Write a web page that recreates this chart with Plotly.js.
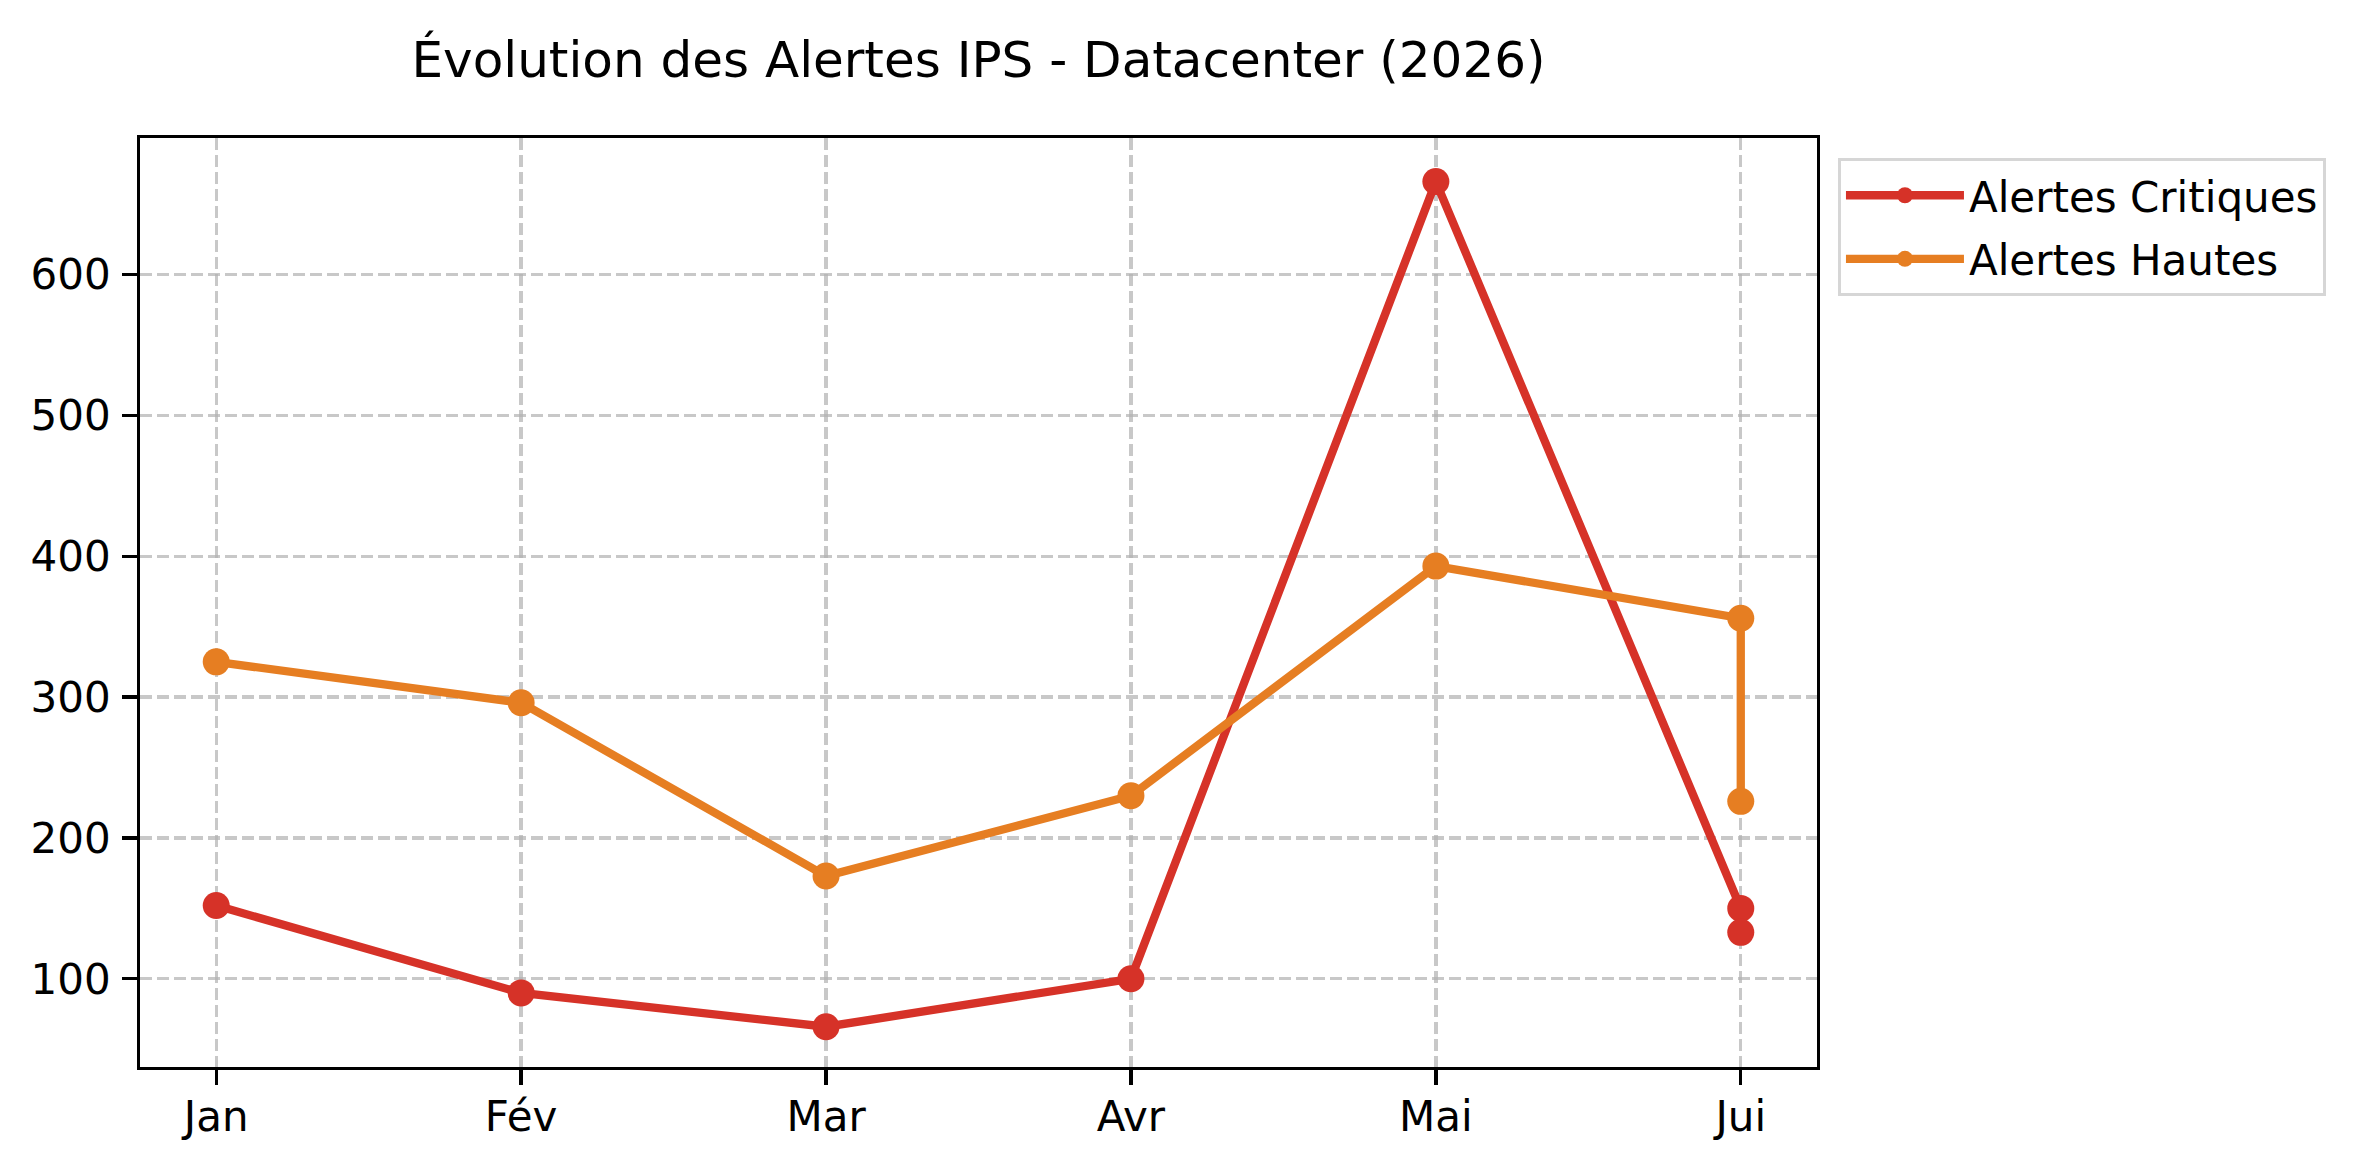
<!DOCTYPE html>
<html>
<head>
<meta charset="utf-8">
<script src="https://cdn.plot.ly/plotly-3.0.1.min.js"></script>
<style>
  html, body { margin: 0; padding: 0; background: #fff; }
  #chart { width: 2368px; height: 1172px; }
</style>
</head>
<body>
<div id="chart"></div>
<script>
// Months — June and July both abbreviated "Jui", so they share one category
const months = ['Jan', 'Fév', 'Mar', 'Avr', 'Mai', 'Jui', 'Jui'];
const critiques = [152, 90, 66, 100, 666, 150, 133];
const hautes = [325, 296, 173, 230, 393, 356, 226];
const yTicks = [100, 200, 300, 400, 500, 600];

const RED = '#d63228';
const ORANGE = '#e67e22';

/** One line+marker series. */
function series(y, name, color) {
  return {
    type: 'scatter', mode: 'lines+markers', x: months, y, name,
    legendgroup: name,
    line: { color, width: 8.3 },
    marker: { color, size: 27 },
    hoverinfo: 'skip',
  };
}

const axisBase = {
  showline: true, linecolor: '#000', linewidth: 3.3, mirror: true,
  ticks: 'outside', ticklen: 14.6, tickwidth: 3.3, tickcolor: '#000',
  showgrid: true, gridcolor: 'rgba(176,176,176,0.7)', gridwidth: 3.3, griddash: '12px,5px',
  zeroline: false,
  tickfont: { family: 'DejaVu Sans', size: 42, color: '#000' },
};

Plotly.newPlot('chart', [
  series(critiques, 'Alertes Critiques', RED),
  series(hautes, 'Alertes Hautes', ORANGE),
], {
  width: 2368, height: 1172,
  paper_bgcolor: '#fff', plot_bgcolor: '#fff',
  font: { family: 'DejaVu Sans', color: '#000' },
  title: {
    text: 'Évolution des Alertes IPS - Datacenter (2026)',
    font: { family: 'DejaVu Sans', size: 50, color: '#000' },
    xref: 'paper', x: 0.5, xanchor: 'center',
    yref: 'container', y: 1 - 59 / 1172, yanchor: 'middle',
  },
  xaxis: { ...axisBase, type: 'category', range: [-0.25, 5.25], ticklabelstandoff: -4 },
  yaxis: { ...axisBase, range: [37.4, 696.9], tickvals: yTicks, ticklabelstandoff: 3 },
  legend: {
    x: 1.0125, xanchor: 'left', y: 0.978, yanchor: 'top',
    bgcolor: '#fff', bordercolor: '#d6d6d6', borderwidth: 3,
    font: { family: 'DejaVu Sans', size: 42, color: '#000' },
    itemwidth: 118, tracegroupgap: 6,
  },
  showlegend: true,
  margin: { l: 140, r: 551, t: 138, b: 105 },
}, { displayModeBar: false, staticPlot: true });
</script>
</body>
</html>
